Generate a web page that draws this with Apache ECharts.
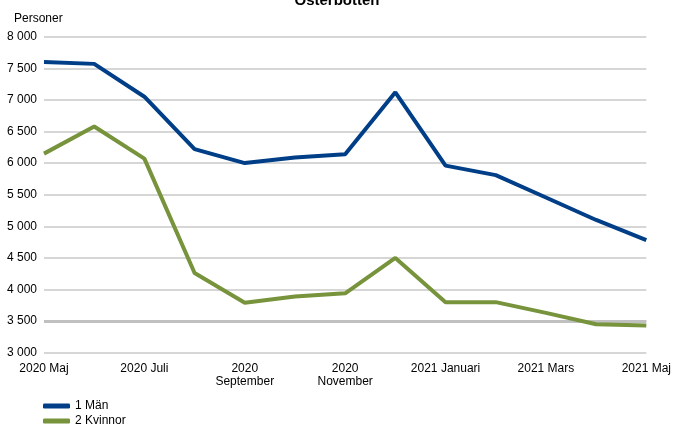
<!DOCTYPE html>
<html><head><meta charset="utf-8">
<script src="https://cdn.jsdelivr.net/npm/echarts@6/dist/echarts.min.js"></script>
<style>html,body{margin:0;padding:0;background:#fff}#c{width:674px;height:428px}</style>
</head><body><div id="c"></div>
<script>
const categories = ['2020 Maj','2020 Juni','2020 Juli','2020 Augusti','2020 September','2020 Oktober','2020 November','2020 December','2021 Januari','2021 Februari','2021 Mars','2021 April','2021 Maj'];
const manValues = [7600, 7570, 7050, 6220, 6000, 6090, 6140, 7120, 5960, 5810, 5455, 5100, 4780];
const kvinnorValues = [6150, 6580, 6070, 4260, 3790, 3890, 3940, 4500, 3800, 3800, 3630, 3450, 3430];
const seriesNames = ['1 Män', '2 Kvinnor'];
const titleText = 'Österbotten';
const yAxisTitle = 'Personer';

const F = 'Liberation Sans, Arial, sans-serif';
const chart = echarts.init(document.getElementById('c'), null, {renderer:'canvas'});
chart.setOption({
  animation: false,
  backgroundColor: '#fff',
  title: [
    {text: titleText, left: 'center', top: -12, textStyle:{fontFamily:F, fontSize:15, fontWeight:'bold', color:'#000'}},
    {text: yAxisTitle, left: 14, top: 13, padding: [0,0,0,0], textStyle:{fontFamily:F, fontSize:12, fontWeight:'normal', color:'#000'}}
  ],
  grid: {left: 44, right: 23, top: 36.7, bottom: 75.3, containLabel: false},
  legend: {
    orient: 'vertical', left: 43, top: 400, itemGap: 3, itemWidth: 27, itemHeight: 5, padding: 0,
    icon: 'roundRect',
    textStyle: {fontFamily: F, fontSize: 12, color: '#000'},
    data: seriesNames
  },
  xAxis: {
    type: 'category', data: categories, boundaryGap: false,
    axisLine: {show: false}, axisTick: {show: false},
    axisLabel: {
      interval: 1, color: '#000', fontFamily: F, fontSize: 12, margin: 9, lineHeight: 13,
      formatter: v => (v === '2020 September' || v === '2020 November') ? v.replace(' ', '\n') : v
    }
  },
  yAxis: {
    type: 'value', min: 3000, max: 8000, interval: 500,
    axisLine: {show: false}, axisTick: {show: false},
    splitLine: {lineStyle: {color: '#c8c8c8', width: 1.5}},
    axisLabel: {color: '#000', fontFamily: F, fontSize: 12, margin: 7,
      formatter: v => String(v).replace(/\B(?=(\d{3})+(?!\d))/g, ' ')}
  },
  series: [
    {name: seriesNames[0], type: 'line', data: manValues, symbol: 'none',
     lineStyle: {color: '#003f87', width: 4}, itemStyle: {color: '#003f87'},
     markLine: {silent: true, symbol: 'none', label: {show:false},
       lineStyle: {color: '#c0c0c0', width: 3, type: 'solid'}, data: [{yAxis: 3500}], z: 1}},
    {name: seriesNames[1], type: 'line', data: kvinnorValues, symbol: 'none', z: 3,
     lineStyle: {color: '#77933c', width: 4}, itemStyle: {color: '#77933c'}}
  ]
});
</script></body></html>
